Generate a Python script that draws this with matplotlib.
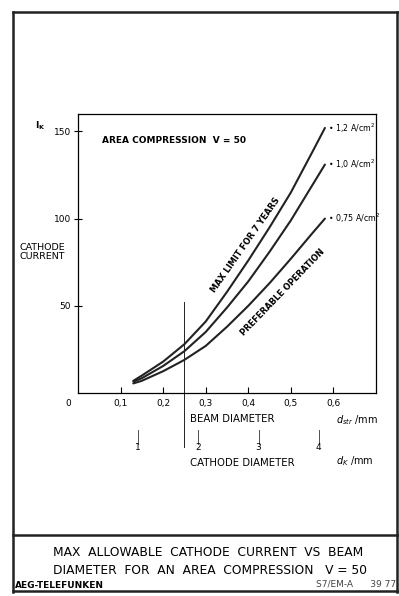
import numpy as np
import matplotlib.pyplot as plt
from matplotlib.lines import Line2D

# beam diameter d_str in mm, cathode current I_K for three cathode loads
d_beam = [0.13, 0.15, 0.20, 0.25, 0.30, 0.35, 0.40, 0.45, 0.50, 0.55, 0.58]
i_12 = [7, 10, 18, 28, 41, 58, 76, 95, 115, 138, 152]
i_10 = [6.5, 8.5, 15.5, 24, 35, 49, 64, 81, 99, 119, 131]
i_075 = [5.5, 7, 12.5, 19, 27, 38, 50, 63, 77, 91.5, 100]
curve_labels = ["1,2 A/cm$^2$", "1,0 A/cm$^2$", "0,75 A/cm$^2$"]

x_ticks = [0.1, 0.2, 0.3, 0.4, 0.5, 0.6]
x_ticklabels = ["0,1", "0,2", "0,3", "0,4", "0,5", "0,6"]
y_ticks = [50, 100, 150]
compression = 50
cathode_d = [1, 2, 3, 4]

W, H = 399, 596
fig = plt.figure(figsize=(W / 100, H / 100), dpi=100)
plt.rcParams['font.family'] = 'DejaVu Sans'


def fx(px):
    return px / W


def fy(py):
    return 1 - py / H


ax = fig.add_axes([fx(78), fy(393), fx(376) - fx(78), fy(114) - fy(393)])
ax.set_xlim(0, 0.7)
ax.set_ylim(0, 160)
for s in ax.spines.values():
    s.set_linewidth(0.9)

ax.set_xticks(x_ticks)
ax.set_xticklabels(x_ticklabels, fontsize=6.5)
ax.set_yticks(y_ticks)
ax.set_yticklabels([str(v) for v in y_ticks], fontsize=6.5)
ax.tick_params(axis='x', direction='in', length=4, width=0.8, pad=4)
ax.tick_params(axis='y', direction='inout', length=6, width=0.8, pad=2)

# current curves
for ys, lab in zip([i_12, i_10, i_075], curve_labels):
    ax.plot(d_beam, ys, color='#222222', lw=1.5, solid_capstyle='round',
            solid_joinstyle='round')
    ax.annotate("\u2022 " + lab, (d_beam[-1], ys[-1]), xytext=(2, 0),
                textcoords='offset points', fontsize=5.7, va='center',
                ha='left', annotation_clip=False)

# divider at d_str = 0.25 mm, running below the axis
ax.plot([0.25, 0.25], [-31, 52], color='#222222', lw=0.7, clip_on=False)

ax.text(0.08, 0.905, "AREA COMPRESSION  V = 50", transform=ax.transAxes,
        fontsize=6.5, fontweight='bold', va='center', ha='left')
ax.text(0.393, 85, "MAX LIMIT FOR 7 YEARS", rotation=55, fontsize=6,
        fontweight='bold', ha='center', va='center', rotation_mode='anchor')
ax.text(0.48, 58, "PREFERABLE OPERATION", rotation=46, fontsize=6,
        fontweight='bold', ha='center', va='center', rotation_mode='anchor')

# y axis labels
fig.text(fx(68), fy(404), "0", fontsize=6.5, ha='center', va='center')
fig.text(fx(40), fy(126), "$\\mathbf{I_K}$", fontsize=6.5, ha='center', va='center')
fig.text(fx(20), fy(252), "CATHODE\nCURRENT", fontsize=6.8, ha='left',
         va='center', linespacing=1.0)

# beam diameter axis title
fig.text(fx(190), fy(419), "BEAM DIAMETER", fontsize=7.3, ha='left', va='center')
fig.text(fx(336), fy(420), "$d_{str}$ /mm", fontsize=7, ha='left', va='center')

# cathode diameter scale: d_K = d_str * sqrt(V)
for dk in cathode_d:
    xd = dk / np.sqrt(compression)
    ax.plot([xd, xd], [-21, -29], color='#333333', lw=0.6, clip_on=False)
    ax.text(xd, -31.5, str(dk), fontsize=6.5, ha='center', va='center',
            clip_on=False)
fig.text(fx(190), fy(463), "CATHODE DIAMETER", fontsize=7.3, ha='left', va='center')
fig.text(fx(336), fy(461), "$d_K$ /mm", fontsize=7, ha='left', va='center')

# sheet frame and caption box
frame = [((13, 12), (13, 592)), ((13, 12), (398, 12)), ((397, 12), (397, 592)),
         ((13, 591), (398, 591)), ((13, 535), (398, 535))]
for (x0, y0), (x1, y1) in frame:
    fig.add_artist(Line2D([fx(x0), fx(x1)], [fy(y0), fy(y1)], color='#222222',
                          lw=1.8, transform=fig.transFigure))

fig.text(fx(53), fy(552), "MAX  ALLOWABLE  CATHODE  CURRENT  VS  BEAM",
         fontsize=8.8, ha='left', va='center')
fig.text(fx(53), fy(571), "DIAMETER  FOR  AN  AREA  COMPRESSION   V = 50",
         fontsize=8.8, ha='left', va='center')
fig.text(fx(15), fy(586), "AEG-TELEFUNKEN", fontsize=6.5, fontweight='bold',
         ha='left', va='center')
fig.text(fx(396), fy(584), "S7/EM-A      39 77", fontsize=6.5, ha='right',
         va='center', color='#444444')

fig.savefig("out.png", dpi=100, facecolor='white')
